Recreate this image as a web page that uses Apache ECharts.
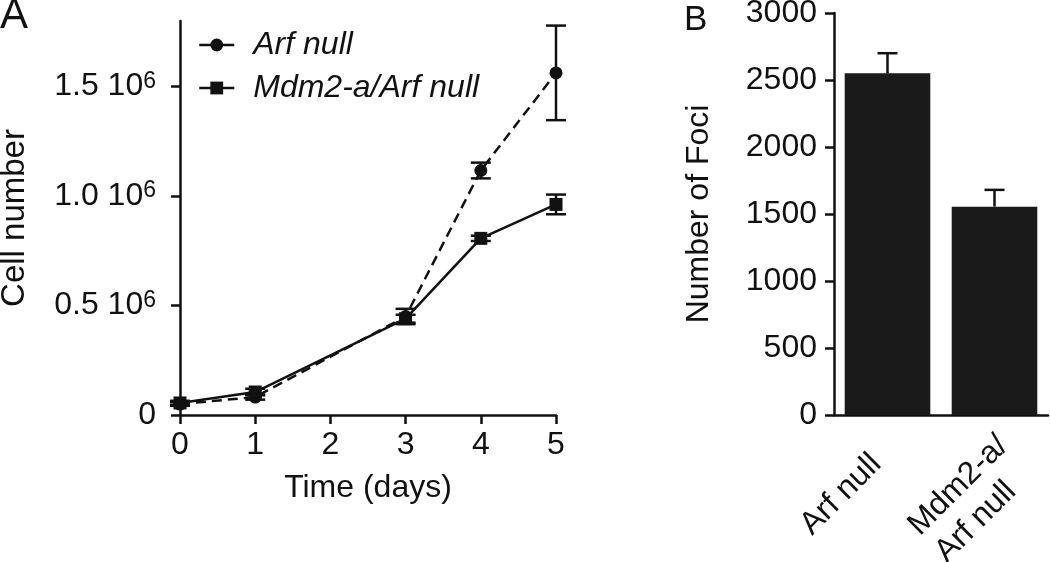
<!DOCTYPE html>
<html>
<head>
<meta charset="utf-8">
<script src="https://cdn.jsdelivr.net/npm/echarts@6/dist/echarts.min.js"></script>
<style>
  html, body { margin: 0; padding: 0; background: #fff; }
  .chart { width: 1050px; height: 562px; }
</style>
</head>
<body>
<div class="chart"></div>
<script>
// panel A: growth curves
var days = [0, 1, 3, 4, 5];
var arfNull = [50000, 82000, 450000, 1117000, 1563000];
var arfNullErr = [8000, 12000, 35000, 36000, 216000];
var mdm2Arf = [55000, 105000, 440000, 807000, 962000];
var mdm2ArfErr = [10000, 15000, 18000, 12000, 45000];
var cellTicks = [0, 500000, 1000000, 1500000];

// panel B: foci
var fociNames = ['Arf null', 'Mdm2-a/\nArf null'];
var foci = [2550, 1555];
var fociErr = [150, 125];

var font = '"Liberation Sans", Arial, sans-serif';
var ink = '#111';

var myChart = echarts.init(document.querySelector('.chart'));

function pairs(xs, ys, es) {
  return xs.map(function (x, i) { return [x, ys[i], es[i]]; });
}

// vertical error bar with caps; both = false draws upward only
function errorBar(both, capW) {
  return function (params, api) {
    var x = api.value(0), y = api.value(1), e = api.value(2);
    var top = api.coord([x, y + e]);
    var bot = api.coord([x, both ? y - e : y]);
    var style = { stroke: ink, lineWidth: 2.5 };
    var kids = [
      { type: 'line', shape: { x1: top[0], y1: top[1], x2: bot[0], y2: bot[1] }, style: style },
      { type: 'line', shape: { x1: top[0] - capW / 2, y1: top[1], x2: top[0] + capW / 2, y2: top[1] }, style: style }
    ];
    if (both) {
      kids.push({ type: 'line', shape: { x1: bot[0] - capW / 2, y1: bot[1], x2: bot[0] + capW / 2, y2: bot[1] }, style: style });
    }
    return { type: 'group', children: kids };
  };
}

var axisLine = { lineStyle: { color: ink, width: 2.5 } };
var axisTick = { length: 9, lineStyle: { color: ink, width: 2.5 } };

// second bar label: two left-aligned lines
var fociAxisData = fociNames.map(function (n) {
  var lines = n.split('\n');
  if (lines.length === 1) return { value: n };
  return { value: n, textStyle: { padding: [40, -11, 0, 0] } };
});

var option = {
  animation: false,
  textStyle: { fontFamily: font, color: ink },
  title: [
    { text: 'A', left: 0, top: -5, padding: 0, textStyle: { fontSize: 42, fontWeight: 'normal', color: ink, fontFamily: font } },
    { text: 'B', left: 684, top: 3, padding: 0, textStyle: { fontSize: 35, fontWeight: 'normal', color: ink, fontFamily: font } }
  ],
  legend: {
    orient: 'vertical',
    left: 198,
    top: 29,
    padding: 0,
    itemWidth: 35,
    itemHeight: 16,
    itemGap: 11,
    data: ['Arf null', 'Mdm2-a/Arf null'],
    lineStyle: { type: 'solid', width: 2.5 },
    textStyle: { fontSize: 32, lineHeight: 32, fontStyle: 'italic', color: ink, fontFamily: font, padding: [0, 0, 0, 14] }
  },
  grid: [
    { left: 180, right: 494, top: 21, bottom: 147, outerBoundsMode: 'none' },
    { left: 834, right: 2, top: 13, bottom: 147, outerBoundsMode: 'none' }
  ],
  xAxis: [
    {
      gridIndex: 0,
      type: 'value',
      min: 0, max: 5, interval: 1,
      name: 'Time (days)',
      nameLocation: 'middle',
      nameGap: 57,
      nameTextStyle: { fontSize: 32, color: ink, fontFamily: font },
      splitLine: { show: false },
      axisLine: axisLine,
      axisTick: axisTick,
      axisLabel: { fontSize: 32, color: ink, margin: 14, fontFamily: font }
    },
    {
      gridIndex: 1,
      type: 'category',
      data: fociAxisData,
      axisLine: axisLine,
      axisTick: { alignWithLabel: false, length: 9, lineStyle: { color: ink, width: 2.5 } },
      axisLabel: {
        rotate: 45,
        margin: 33,
        interval: 0,
        padding: [0, 16, 0, 0],
        fontSize: 32,
        color: ink,
        fontFamily: font,
        formatter: function (v) {
          var lines = v.split('\n');
          if (lines.length === 1) return v;
          return '{w|' + lines[0] + '}\n{w|' + lines[1] + '}';
        },
        rich: {
          w: { fontSize: 32, fontFamily: font, color: ink, align: 'left', lineHeight: 38 }
        }
      }
    }
  ],
  yAxis: [
    {
      gridIndex: 0,
      type: 'value',
      min: 0, max: 1800000,
      name: 'Cell number',
      nameLocation: 'middle',
      nameGap: 149,
      nameTextStyle: { fontSize: 33, color: ink, fontFamily: font },
      splitLine: { show: false },
      axisLine: { show: true, lineStyle: { color: ink, width: 2.5 } },
      axisTick: { show: true, length: 9, lineStyle: { color: ink, width: 2.5 }, customValues: cellTicks },
      axisLabel: {
        customValues: cellTicks,
        margin: 24,
        formatter: function (v) {
          if (v === 0) return '{n|0}';
          return '{n|' + (v / 1000000).toFixed(1) + ' 10}{s|6}';
        },
        rich: {
          n: { fontSize: 32, fontFamily: font, color: ink },
          s: { fontSize: 23, fontFamily: font, color: ink, verticalAlign: 'top', padding: [0, 0, 10, 0] }
        }
      }
    },
    {
      gridIndex: 1,
      type: 'value',
      min: 0, max: 3000, interval: 500,
      name: 'Number of Foci',
      nameLocation: 'middle',
      nameGap: 119,
      nameTextStyle: { fontSize: 32, color: ink, fontFamily: font },
      splitLine: { show: false },
      axisLine: { show: true, lineStyle: { color: ink, width: 2.5 } },
      axisTick: { show: true, length: 9, lineStyle: { color: ink, width: 2.5 } },
      axisLabel: {
        fontSize: 32, color: ink, margin: 17, fontFamily: font,
        formatter: function (v) { return String(v); }
      }
    }
  ],
  series: [
    {
      name: 'Arf null',
      type: 'line',
      xAxisIndex: 0, yAxisIndex: 0,
      data: pairs(days, arfNull, arfNullErr),
      symbol: 'circle',
      symbolSize: 13,
      itemStyle: { color: ink },
      lineStyle: { color: ink, width: 2.5, type: [10, 6] },
      z: 3
    },
    {
      name: 'Mdm2-a/Arf null',
      type: 'line',
      xAxisIndex: 0, yAxisIndex: 0,
      data: pairs(days, mdm2Arf, mdm2ArfErr),
      symbol: 'rect',
      symbolSize: 13,
      itemStyle: { color: ink },
      lineStyle: { color: ink, width: 2.5 },
      z: 4
    },
    {
      type: 'custom',
      xAxisIndex: 0, yAxisIndex: 0,
      data: pairs(days, arfNull, arfNullErr),
      renderItem: errorBar(true, 20),
      z: 5
    },
    {
      type: 'custom',
      xAxisIndex: 0, yAxisIndex: 0,
      data: pairs(days, mdm2Arf, mdm2ArfErr),
      renderItem: errorBar(true, 20),
      z: 5
    },
    {
      type: 'bar',
      xAxisIndex: 1, yAxisIndex: 1,
      data: foci,
      barCategoryGap: '20%',
      itemStyle: { color: '#1a1a1a' },
      z: 2
    },
    {
      type: 'custom',
      xAxisIndex: 1, yAxisIndex: 1,
      data: fociNames.map(function (n, i) { return [i, foci[i], fociErr[i]]; }),
      renderItem: errorBar(false, 20),
      z: 3
    }
  ]
};

myChart.setOption(option);
</script>
</body>
</html>
